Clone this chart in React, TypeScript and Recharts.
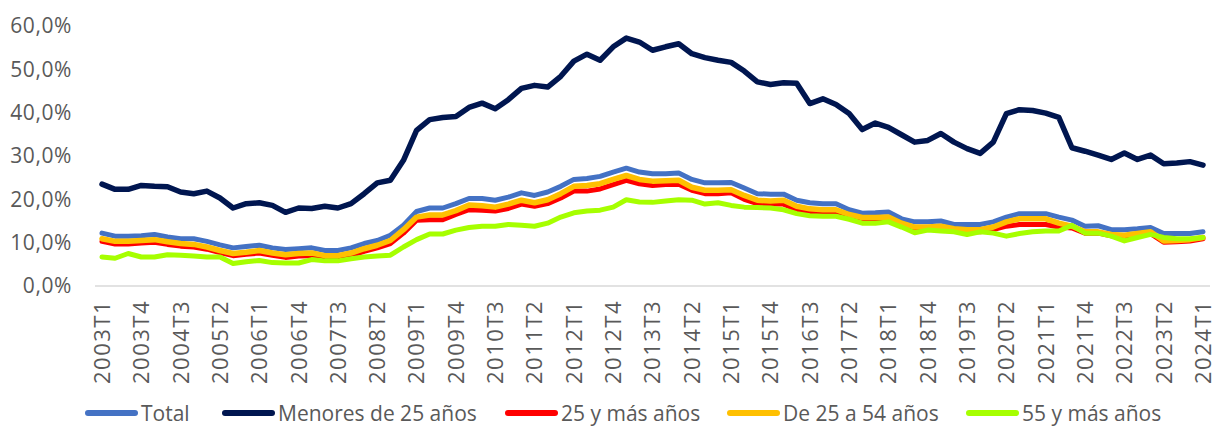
import React from 'react';
import { LineChart, Line, XAxis, YAxis, Legend } from 'recharts';

// quarters 2003T1 .. 2024T1
const quarters: string[] = [];
for (let y = 2003; y <= 2024; y++) {
  for (let t = 1; t <= 4; t++) {
    if (y === 2024 && t > 1) break;
    quarters.push(`${y}T${t}`);
  }
}

const total = [
  12.2, 11.5, 11.5, 11.6, 11.9, 11.3, 10.9, 10.9, 10.3, 9.5, 8.8, 9.1, 9.4, 8.8, 8.4, 8.6, 8.8, 8.2, 8.2, 8.8,
  9.8, 10.5, 11.7, 14.0, 17.2, 18.0, 18.0, 19.0, 20.2, 20.2, 19.8, 20.5, 21.5, 20.9, 21.7, 23.0, 24.6, 24.8, 25.3, 26.3,
  27.2, 26.3, 25.9, 25.9, 26.1, 24.6, 23.8, 23.8, 23.9, 22.6, 21.3, 21.2, 21.2, 19.8, 19.2, 19.0, 19.0, 17.6, 16.8, 16.9,
  17.1, 15.5, 14.8, 14.8, 15.0, 14.2, 14.2, 14.2, 14.8, 15.9, 16.7, 16.7, 16.7, 15.9, 15.2, 13.8, 13.9, 13.0, 13.0, 13.2,
  13.5, 12.1, 12.1, 12.1, 12.5,
];

const menores25 = [
  23.5, 22.3, 22.3, 23.2, 23.0, 22.9, 21.7, 21.3, 21.9, 20.3, 18.0, 19.0, 19.2, 18.6, 17.0, 18.0, 17.9, 18.4, 18.0, 19.0,
  21.3, 23.8, 24.4, 29.0, 35.9, 38.4, 38.9, 39.1, 41.2, 42.2, 40.9, 43.0, 45.6, 46.3, 45.9, 48.4, 51.9, 53.5, 52.1, 55.2,
  57.2, 56.3, 54.4, 55.2, 55.9, 53.6, 52.7, 52.1, 51.6, 49.6, 47.1, 46.5, 46.9, 46.8, 42.1, 43.2, 41.9, 39.8, 36.1, 37.6,
  36.6, 34.9, 33.2, 33.6, 35.2, 33.2, 31.7, 30.6, 33.2, 39.8, 40.7, 40.5, 39.9, 38.9, 31.9, 31.1, 30.2, 29.2, 30.7, 29.2,
  30.2, 28.2, 28.4, 28.7, 27.9,
];

const masDe25 = [
  10.3, 9.7, 9.7, 9.9, 10.1, 9.6, 9.2, 9.0, 8.5, 7.7, 7.0, 7.3, 7.6, 7.1, 6.6, 6.9, 7.0, 6.4, 6.4, 7.0,
  8.0, 8.8, 9.8, 12.2, 15.2, 15.3, 15.3, 16.5, 17.6, 17.5, 17.3, 17.9, 18.9, 18.4, 19.0, 20.3, 21.9, 21.9, 22.4, 23.4,
  24.4, 23.6, 23.2, 23.4, 23.5, 22.1, 21.3, 21.3, 21.5, 20.0, 19.0, 18.9, 18.9, 17.6, 17.1, 17.0, 17.0, 15.9, 15.2, 15.2,
  15.3, 14.0, 13.1, 13.1, 13.3, 12.7, 12.5, 12.5, 13.0, 13.8, 14.2, 14.2, 14.2, 13.6, 13.4, 12.2, 12.2, 11.6, 11.3, 11.7,
  12.1, 10.1, 10.2, 10.4, 10.9,
];

const de25a54 = [
  10.9, 10.3, 10.3, 10.5, 10.7, 10.2, 9.8, 9.6, 9.0, 8.2, 7.5, 7.8, 8.2, 7.6, 7.2, 7.5, 7.6, 7.0, 7.0, 7.6,
  8.6, 9.4, 10.5, 13.0, 15.9, 16.4, 16.4, 17.4, 18.7, 18.5, 18.2, 18.9, 19.8, 19.2, 19.9, 21.3, 23.0, 23.2, 23.6, 24.6,
  25.5, 24.6, 24.2, 24.3, 24.4, 22.8, 22.1, 22.1, 22.2, 20.9, 19.8, 19.6, 19.8, 18.4, 17.8, 17.6, 17.6, 16.5, 15.8, 15.8,
  15.9, 14.5, 13.6, 13.6, 13.8, 13.2, 13.0, 13.0, 13.6, 14.8, 15.5, 15.5, 15.5, 14.5, 13.8, 12.5, 12.5, 11.9, 11.7, 12.1,
  12.5, 10.4, 10.5, 10.7, 11.2,
];

const masDe55 = [
  6.7, 6.4, 7.5, 6.7, 6.7, 7.2, 7.1, 6.9, 6.7, 6.7, 5.2, 5.6, 5.9, 5.4, 5.3, 5.3, 6.1, 5.8, 5.8, 6.3,
  6.7, 6.9, 7.1, 9.0, 10.7, 12.0, 12.0, 12.9, 13.5, 13.8, 13.8, 14.2, 14.0, 13.8, 14.5, 15.9, 16.9, 17.3, 17.5, 18.2,
  19.9, 19.4, 19.3, 19.6, 19.9, 19.8, 18.9, 19.2, 18.6, 18.2, 18.1, 18.0, 17.6, 16.7, 16.2, 16.1, 16.1, 15.4, 14.5, 14.5,
  14.8, 13.6, 12.3, 12.9, 12.7, 12.5, 11.9, 12.5, 12.2, 11.5, 12.1, 12.5, 12.7, 12.7, 14.0, 12.2, 12.2, 11.5, 10.4, 11.2,
  11.9, 11.2, 10.9, 10.9, 11.2,
];

const yTicks = [0, 10, 20, 30, 40, 50, 60];

const data = quarters.map((q, i) => ({
  q,
  total: total[i],
  menores25: menores25[i],
  masDe25: masDe25[i],
  de25a54: de25a54[i],
  masDe55: masDe55[i],
}));

const series = [
  { key: 'total', name: 'Total', color: '#4472C4', width: 5 },
  { key: 'menores25', name: 'Menores de 25 años', color: '#001650', width: 5.5 },
  { key: 'masDe25', name: '25 y más años', color: '#FF0000', width: 5 },
  { key: 'de25a54', name: 'De 25 a 54 años', color: '#FFC000', width: 5.5 },
  { key: 'masDe55', name: '55 y más años', color: '#A6FF00', width: 5 },
];

const FONT = '"Open Sans", sans-serif';
const TEXT = '#595959';
const legendLeft = [85, 222, 505, 727, 966];

const fmt = (v: number) => v.toFixed(1).replace('.', ',') + '%';

const XTick = ({ x, y, payload }: any) => (
  <g transform={`translate(${x},${y})`}>
    <text
      transform="rotate(-90)"
      x={-14}
      dy="0.36em"
      textAnchor="end"
      fill={TEXT}
      fontSize={22}
      letterSpacing={1.5}
      fontFamily={FONT}
    >
      {payload.value}
    </text>
  </g>
);

const renderLegend = () => (
  <div style={{ position: 'relative', height: 30, fontFamily: FONT, fontSize: 21, color: TEXT }}>
    {series.map((s, i) => (
      <div
        key={s.key}
        style={{
          position: 'absolute',
          left: legendLeft[i],
          top: 0,
          height: 30,
          display: 'flex',
          alignItems: 'center',
          whiteSpace: 'nowrap',
        }}
      >
        <svg width={56} height={10}>
          <line x1={3} y1={5} x2={50} y2={5} stroke={s.color} strokeWidth={6} strokeLinecap="round" />
        </svg>
        <span>{s.name}</span>
      </div>
    ))}
  </div>
);

export default function App() {
  return (
    <div style={{ position: 'absolute', left: 0, top: 0, width: 1222, height: 428, background: '#fff' }}>
      <LineChart width={1222} height={428} data={data} margin={{ top: 26, right: 12, bottom: 0, left: 0 }}>
        <XAxis
          dataKey="q"
          interval={2}
          tick={<XTick />}
          tickLine={false}
          tickSize={0}
          tickMargin={0}
          height={112}
          padding={{ left: 7, right: 7 }}
          axisLine={{ stroke: '#D9D9D9', strokeWidth: 1.5 }}
        />
        <YAxis
          domain={[0, 60]}
          ticks={yTicks}
          tickFormatter={fmt}
          width={95}
          axisLine={false}
          tickLine={false}
          tickSize={0}
          tickMargin={23}
          tick={{ fill: TEXT, fontSize: 21, fontFamily: FONT, letterSpacing: 0.6 }}
        />
        <Legend verticalAlign="bottom" content={renderLegend} />
        {series.map((s) => (
          <Line
            key={s.key}
            type="linear"
            dataKey={s.key}
            name={s.name}
            stroke={s.color}
            strokeWidth={s.width}
            strokeLinejoin="round"
            strokeLinecap="round"
            dot={false}
            activeDot={false}
            isAnimationActive={false}
          />
        ))}
      </LineChart>
    </div>
  );
}
